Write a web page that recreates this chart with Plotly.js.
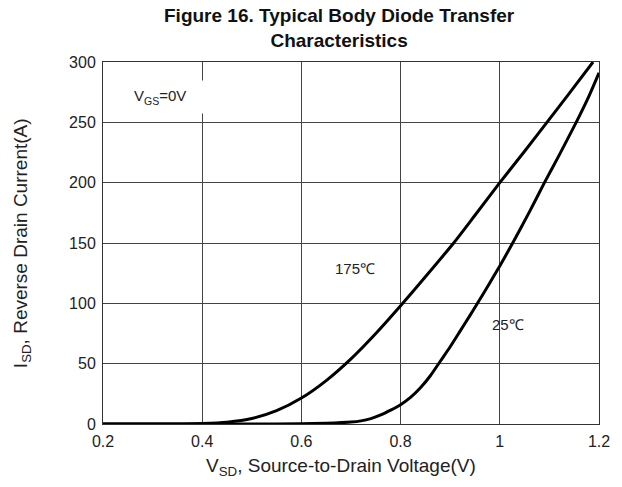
<!DOCTYPE html>
<html>
<head>
<meta charset="utf-8">
<script src="https://cdn.plot.ly/plotly-3.0.1.min.js"></script>
<style>html,body{margin:0;padding:0;background:#fff;}#chart{width:622px;height:487px;}</style>
</head>
<body>
<div id="chart"></div>
<script>
// Data
const vsd175 = [0.2, 0.3, 0.36, 0.4, 0.45, 0.5, 0.55, 0.6, 0.65, 0.7, 0.75, 0.8, 0.85, 0.907, 0.95, 1.0, 1.05, 1.095, 1.14, 1.188];
const isd175 = [0, 0, 0.1, 0.4, 1.5, 4.5, 11, 21.5, 36, 54, 75, 98, 122, 150, 173, 200, 226, 250, 274, 300];
const vsd25 = [0.2, 0.5, 0.6, 0.65, 0.7, 0.72, 0.74, 0.76, 0.78, 0.8, 0.82, 0.84, 0.86, 0.88, 0.9, 0.92, 0.94, 0.955, 0.98, 1.0, 1.026, 1.06, 1.09, 1.12, 1.154, 1.18, 1.2];
const isd25 = [0, 0, 0.2, 0.6, 1.6, 2.6, 4.5, 7.5, 11.5, 16, 22, 30, 40, 52, 64, 77, 90, 100, 117, 131, 150, 176, 200, 223, 250, 272, 291];
const xTicks = [0.2, 0.4, 0.6, 0.8, 1.0, 1.2];
const xTickText = ["0.2", "0.4", "0.6", "0.8", "1", "1.2"];
const yTicks = [0, 50, 100, 150, 200, 250, 300];
const yTickText = ["0", "50", "100", "150", "200", "250", "300"];

const FONT = "Liberation Sans, Arial, Helvetica, sans-serif";

const traces = [
  {x: vsd175, y: isd175, mode: "lines", name: "175℃",
   line: {color: "#000", width: 3, shape: "spline", smoothing: 0.6}, hoverinfo: "skip"},
  {x: vsd25, y: isd25, mode: "lines", name: "25℃",
   line: {color: "#000", width: 3, shape: "spline", smoothing: 0.6}, hoverinfo: "skip"}
];

const layout = {
  width: 622, height: 487,
  margin: {l: 103, r: 23, t: 62, b: 63},
  paper_bgcolor: "#fff", plot_bgcolor: "#fff",
  showlegend: false,
  font: {family: FONT, color: "#222", size: 14},
  title: {text: "<b>Figure 16. Typical Body Diode Transfer<br>Characteristics</b>",
          font: {family: FONT, size: 19, color: "#111"},
          x: 0.476, xref: "paper", xanchor: "center",
          y: 1, yref: "paper", yanchor: "bottom", pad: {b: 40}},
  xaxis: {range: [0.2, 1.2], tickvals: xTicks, ticktext: xTickText,
          showgrid: true, gridcolor: "#444", gridwidth: 1,
          showline: true, mirror: true, linecolor: "#333", linewidth: 1,
          ticks: "", ticklen: 0, zeroline: false, fixedrange: true,
          ticklabelstandoff: 3,
          tickfont: {size: 16, color: "#222"}},
  yaxis: {range: [0, 300], tickvals: yTicks, ticktext: yTickText,
          showgrid: true, gridcolor: "#444", gridwidth: 1,
          showline: true, mirror: true, linecolor: "#333", linewidth: 1,
          ticks: "", ticklen: 0, zeroline: false, fixedrange: true,
          ticklabelstandoff: 3,
          tickfont: {size: 16, color: "#222"}},
  annotations: [
    {text: "V<sub>GS</sub>=0V", xref: "paper", yref: "paper", x: 0.054, y: 0.903,
     xanchor: "left", yanchor: "middle", align: "left", width: 70, height: 26,
     showarrow: false, bgcolor: "#fff", font: {size: 15, color: "#222"}, borderpad: 3},
    {text: "175℃", xref: "paper", yref: "paper", x: 0.508, y: 0.43,
     xanchor: "center", yanchor: "middle",
     showarrow: false, font: {size: 15, color: "#222"}},
    {text: "25℃", xref: "paper", yref: "paper", x: 0.816, y: 0.276,
     xanchor: "center", yanchor: "middle",
     showarrow: false, font: {size: 15, color: "#222"}},
    {text: "V<sub>SD</sub>, Source-to-Drain Voltage(V)", xref: "paper", yref: "paper",
     x: 0.48, y: -0.12, xanchor: "center", yanchor: "middle",
     showarrow: false, font: {size: 19, color: "#222"}},
    {text: "I<sub>SD</sub>, Reverse Drain Current(A)", xref: "paper", yref: "paper",
     x: -0.163, y: 0.5, xanchor: "center", yanchor: "middle", textangle: -90,
     showarrow: false, font: {size: 19, color: "#222"}}
  ]
};

Plotly.newPlot("chart", traces, layout, {staticPlot: true, displayModeBar: false});
</script>
</body>
</html>
